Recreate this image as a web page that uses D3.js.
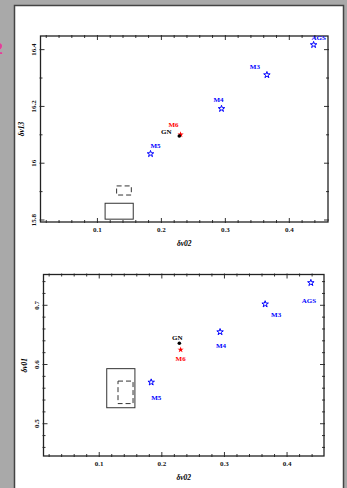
<!DOCTYPE html>
<html>
<head>
<meta charset="utf-8">
<script src="https://cdn.jsdelivr.net/npm/d3@7"></script>
<style>
  html, body { margin: 0; padding: 0; background: #a9a9a9; overflow: hidden; }
  svg { display: block; }
  text { font-family: "Liberation Serif", "DejaVu Serif", serif; font-weight: bold; }
</style>
</head>
<body>
<div id="chart"></div>
<script>
// star / model names and their colour group
const names = ["AGS", "M3", "M4", "M6", "GN", "M5"];
const groups = ["model", "model", "model", "red", "obs", "model"];

// upper panel: dnu02 vs dnu13
const dnu02Top = [0.438, 0.365, 0.294, 0.230, 0.228, 0.183];
const dnu13 = [16.417, 16.311, 16.192, 16.101, 16.096, 16.033];

// lower panel: dnu02 vs dnu01
const dnu02Bot = [0.438, 0.365, 0.293, 0.230, 0.228, 0.183];
const dnu01 = [0.738, 0.702, 0.655, 0.625, 0.636, 0.570];

// error boxes [x0, x1, y0, y1]
const boxTopSolid = [0.112, 0.156, 15.803, 15.859];
const boxTopDash = [0.130, 0.153, 15.888, 15.920];
const boxBotSolid = [0.112, 0.157, 0.527, 0.593];
const boxBotDash = [0.130, 0.154, 0.534, 0.572];

// tick values
const xMajor = [0.1, 0.2, 0.3, 0.4];
const yMajorTop = [15.8, 16, 16.2, 16.4];
const yMajorBot = [0.5, 0.6, 0.7];

const W = 347, H = 488;
const svg = d3.select("#chart").append("svg")
  .attr("width", W).attr("height", H);

// page
svg.append("rect").attr("x", 15).attr("y", 5).attr("width", 328).attr("height", H)
  .attr("fill", "#fff");
svg.append("path").attr("d", "M14.5,488V5.5H343.5V488")
  .attr("fill", "none").attr("stroke", "#444").attr("stroke-width", 1.5);
// stray glyph peeking in at the left margin
svg.append("text").attr("x", 3).attr("y", 54).attr("text-anchor", "end")
  .attr("font-size", 17).attr("fill", "#e0409a").text("2");

const colors = { model: "#0000ff", red: "#ff0000", obs: "#000" };

function panel(opt) {
  const x = d3.scaleLinear().domain(opt.xDomain).range([opt.left, opt.right]);
  const y = d3.scaleLinear().domain(opt.yDomain).range([opt.bottom, opt.top]);
  const g = svg.append("g");

  // ticks on all four sides, pointing inwards
  const xMinor = d3.range(0.02, 0.46, 0.02).filter(v => v > opt.xDomain[0] && v < opt.xDomain[1]);
  const yMinor = d3.range(opt.yMinor[0], opt.yDomain[1], opt.yMinor[1]).filter(v => v > opt.yDomain[0]);
  const tk = g.append("g").attr("stroke", "#333").attr("stroke-width", 1);
  xMinor.forEach(v => {
    const major = xMajor.some(m => Math.abs(m - v) < 1e-6);
    const l = major ? 4 : 2;
    tk.append("line").attr("x1", x(v)).attr("x2", x(v)).attr("y1", opt.bottom + 1).attr("y2", opt.bottom - l);
    tk.append("line").attr("x1", x(v)).attr("x2", x(v)).attr("y1", opt.top - 1).attr("y2", opt.top + l);
  });
  yMinor.forEach(v => {
    const major = opt.yMajor.some(m => Math.abs(m - v) < 1e-6);
    const l = major ? 4 : 2;
    tk.append("line").attr("y1", y(v)).attr("y2", y(v)).attr("x1", opt.left - 1).attr("x2", opt.left + l);
    tk.append("line").attr("y1", y(v)).attr("y2", y(v)).attr("x1", opt.right + 1).attr("x2", opt.right - l);
  });

  g.append("rect").attr("x", opt.left).attr("y", opt.top)
    .attr("width", opt.right - opt.left).attr("height", opt.bottom - opt.top)
    .attr("fill", "none").attr("stroke", "#222").attr("stroke-width", 1.3);

  // tick labels
  g.selectAll(".xl").data(xMajor).join("text")
    .attr("x", d => x(d)).attr("y", opt.bottom + 10)
    .attr("text-anchor", "middle").attr("font-size", 7).attr("fill", "#111")
    .text(d => d3.format(".1f")(d));
  g.selectAll(".yl").data(opt.yMajor).join("text")
    .attr("transform", d => `translate(${opt.left - 5},${y(d)}) rotate(-90)`)
    .attr("text-anchor", "middle").attr("font-size", 7).attr("fill", "#111")
    .text(d => opt.yFmt(d));

  // axis titles
  g.append("text").attr("x", (opt.left + opt.right) / 2).attr("y", opt.bottom + 24)
    .attr("text-anchor", "middle").attr("font-size", 7.5).attr("font-style", "italic")
    .text("δν02");
  g.append("text")
    .attr("transform", `translate(${opt.left - 17},${(opt.top + opt.bottom) / 2}) rotate(-90)`)
    .attr("text-anchor", "middle").attr("font-size", 7.5).attr("font-style", "italic")
    .text(opt.yTitle);

  // error boxes
  const box = (b, dash) => g.append("rect")
    .attr("x", x(b[0])).attr("y", y(b[3]))
    .attr("width", x(b[1]) - x(b[0])).attr("height", y(b[2]) - y(b[3]))
    .attr("fill", "none").attr("stroke", "#333").attr("stroke-width", 1)
    .attr("stroke-dasharray", dash ? "5,3" : null);
  box(opt.solid, false);
  box(opt.dash, true);

  // points
  names.forEach((n, i) => {
    const px = x(opt.xs[i]), py = y(opt.ys[i]);
    const c = colors[groups[i]];
    if (groups[i] === "obs") {
      g.append("circle").attr("cx", px).attr("cy", py).attr("r", 1.8).attr("fill", c);
    } else if (groups[i] === "red") {
      g.append("path").attr("d", d3.symbol(d3.symbolStar, 12)())
        .attr("transform", `translate(${px},${py})`).attr("fill", c);
    } else {
      g.append("path").attr("d", d3.symbol(d3.symbolStar, 13)())
        .attr("transform", `translate(${px},${py})`)
        .attr("fill", "none").attr("stroke", c).attr("stroke-width", 1);
    }
    const o = opt.offsets[n];
    g.append("text").attr("x", px + o[0]).attr("y", py + o[1])
      .attr("dy", "0.35em").attr("text-anchor", "middle")
      .attr("font-size", 7).attr("fill", c).text(n);
  });
}

panel({
  left: 40.5, right: 328, top: 36, bottom: 222,
  xDomain: [0.011, 0.4605], yDomain: [15.793, 16.448],
  yMajor: yMajorTop, yMinor: [15.8, 0.1], yFmt: d => d3.format("")(+d.toFixed(1)),
  yTitle: "δν13",
  xs: dnu02Top, ys: dnu13,
  solid: boxTopSolid, dash: boxTopDash,
  offsets: { AGS: [5, -7], M3: [-12, -8], M4: [-3, -9], M6: [-7, -10], GN: [-13, -4], M5: [5, -8] }
});

panel({
  left: 43.5, right: 324, top: 274.5, bottom: 456,
  xDomain: [0.011, 0.459], yDomain: [0.4455, 0.752],
  yMajor: yMajorBot, yMinor: [0.46, 0.02], yFmt: d => d3.format(".1f")(d),
  yTitle: "δν01",
  xs: dnu02Bot, ys: dnu01,
  solid: boxBotSolid, dash: boxBotDash,
  offsets: { AGS: [-2, 18], M3: [11, 10], M4: [1, 14], M6: [0, 9], GN: [-2, -6], M5: [5, 15] }
});
</script>
</body>
</html>
